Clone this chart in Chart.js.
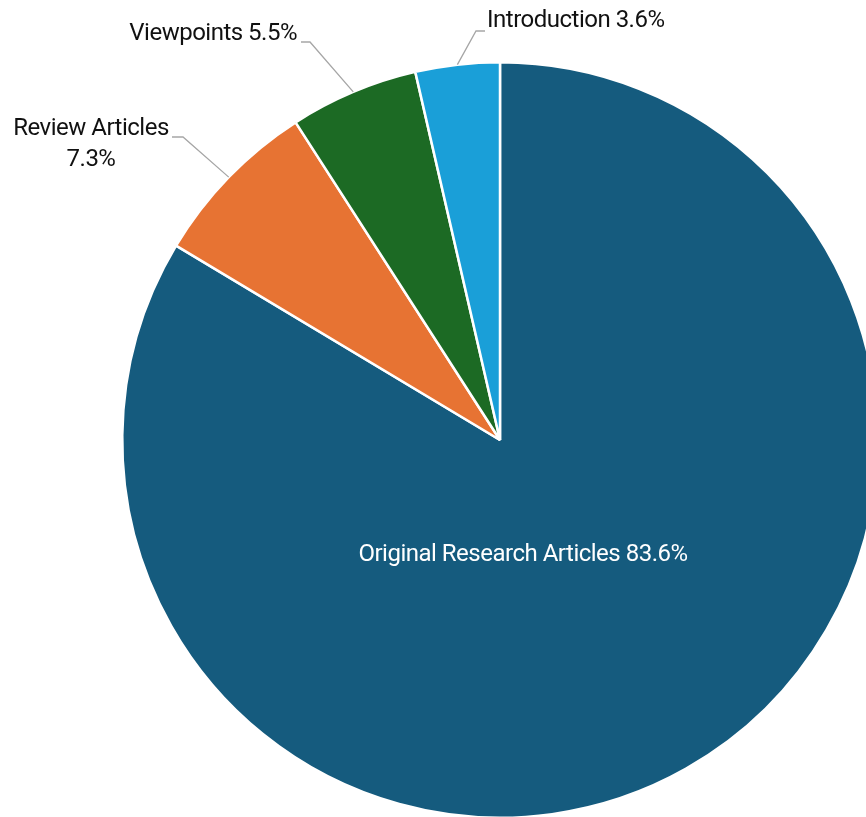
<!DOCTYPE html>
<html>
<head>
<meta charset="utf-8">
<script src="https://cdn.jsdelivr.net/npm/chart.js@4.4.1/dist/chart.umd.min.js"></script>
<style>
  html, body { margin:0; padding:0; background:#fff; overflow:hidden; }
  #wrap { position:absolute; left:0; top:0; width:1000px; height:880px; }
</style>
</head>
<body>
<div id="wrap"><canvas id="c" width="1000" height="880"></canvas></div>
<script>
// data
const categories = ['Original Research Articles', 'Review Articles', 'Viewpoints', 'Introduction'];
const shares = [83.6, 7.3, 5.5, 3.6];
const sliceColors = ['#155B7E', '#E77333', '#1C6A24', '#1A9FD8'];

const FONT = '"Roboto", "Liberation Sans", sans-serif';

// where each label sits (outside labels get an elbow + leader line)
const labelLayout = [
  { inside:true, x:523, y:555 },
  { elbow:[183,137], lineEnd:[172,137], lines:['Review Articles','7.3%'], align:'center', tx:[91,91], ty:[129,160] },
  { elbow:[310,42], lineEnd:[301,42], lines:['Viewpoints 5.5%'], align:'right', tx:[297], ty:[34] },
  { elbow:[476,31], lineEnd:[485,31], lines:['Introduction 3.6%'], align:'left', tx:[487], ty:[21] }
];

const pieLabels = {
  id:'pieLabels',
  afterDatasetsDraw(chart){
    const ctx = chart.ctx;
    const meta = chart.getDatasetMeta(0);
    ctx.save();
    ctx.font = '24px ' + FONT;
    if('letterSpacing' in ctx) ctx.letterSpacing = '-0.5px';
    ctx.textBaseline = 'middle';
    meta.data.forEach((arc, i) => {
      const lay = labelLayout[i];
      const txt = categories[i] + ' ' + shares[i].toFixed(1) + '%';
      if(lay.inside){
        ctx.fillStyle = '#ffffff';
        ctx.textAlign = 'center';
        ctx.fillText(txt, lay.x, lay.y);
        return;
      }
      // leader line from the middle of the slice edge
      const mid = (arc.startAngle + arc.endAngle) / 2;
      const px = arc.x + Math.cos(mid) * arc.outerRadius;
      const py = arc.y + Math.sin(mid) * arc.outerRadius;
      ctx.strokeStyle = '#A6A6A6';
      ctx.lineWidth = 1.3;
      ctx.beginPath();
      ctx.moveTo(px, py);
      ctx.lineTo(lay.elbow[0], lay.elbow[1]);
      ctx.lineTo(lay.lineEnd[0], lay.lineEnd[1]);
      ctx.stroke();
      ctx.fillStyle = '#111111';
      ctx.textAlign = lay.align;
      lay.lines.forEach((ln, k) => ctx.fillText(ln, lay.tx[k], lay.ty[k]));
    });
    ctx.restore();
  }
};

new Chart(document.getElementById('c'), {
  type:'pie',
  data:{
    labels: categories,
    datasets:[{
      data: shares,
      backgroundColor: sliceColors,
      borderColor:'#ffffff',
      borderWidth:2.5
    }]
  },
  options:{
    responsive:false,
    animation:false,
    layout:{ padding:{ top:61, bottom:61, left:0, right:0 } },
    plugins:{ legend:{ display:false }, tooltip:{ enabled:false } }
  },
  plugins:[pieLabels]
});
</script>
</body>
</html>
